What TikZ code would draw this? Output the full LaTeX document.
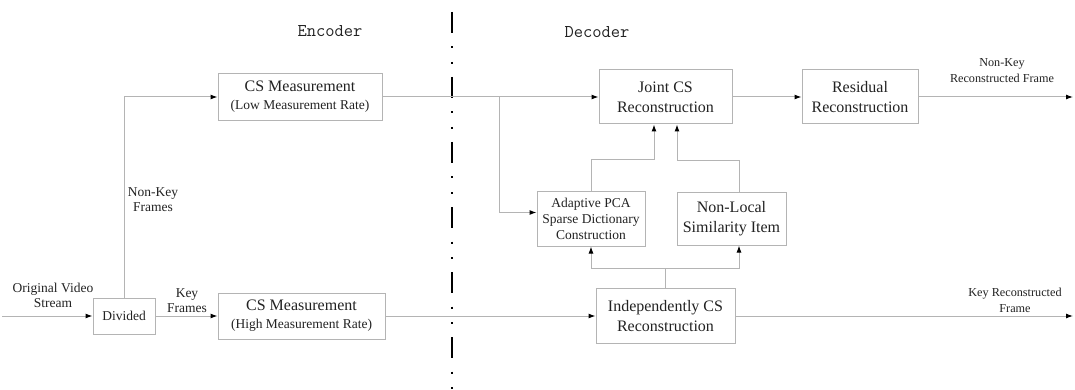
\documentclass[tikz,border=0pt]{standalone}
\usepackage{fontspec}
\setmainfont{Liberation Serif}
\usetikzlibrary{arrows.meta}
\definecolor{linegray}{HTML}{B4B4B4}
\definecolor{txtgray}{HTML}{222222}
\newcommand\bigtxt{\fontsize{16}{20}\selectfont}
\newcommand\smtxt{\fontsize{13.5}{15}\selectfont}
\newcommand\tinytxt{\fontsize{12.2}{16}\selectfont}

\begin{document}
\begin{tikzpicture}[x=1pt,y=-1pt,
  blk/.style={draw=linegray,line width=1pt,inner sep=0pt,align=center,font=\bigtxt,text=txtgray},
  flow/.style={draw=linegray,line width=1pt,-{Latex[length=7pt,width=5pt,color=black]}},
  wire/.style={draw=linegray,line width=1pt},
  lbl/.style={inner sep=0pt,align=center,font=\smtxt,text=txtgray}]
\useasboundingbox (0,0) rectangle (1075,390);
% encoder / decoder split
\draw[line width=2.5pt,dash pattern=on 21pt off 13.5pt on 2pt off 13.5pt on 2pt off 13pt] (452,12) -- (452,392);
\node[font=\ttfamily\fontsize{18}{20}\selectfont,text=txtgray] (enc) at (330,31) {Encoder};
\node[font=\ttfamily\fontsize{18}{20}\selectfont,text=txtgray] (dec) at (597,32) {Decoder};
% blocks
\node[blk,minimum width=62pt,minimum height=36pt,font=\smtxt] (divided) at (124,316) {Divided};
\node[blk,minimum width=164pt,minimum height=47pt] (cslow) at (300,97) {CS Measurement\\[-2pt]{\smtxt(Low Measurement Rate)}};
\node[blk,minimum width=167pt,minimum height=46pt] (cshigh) at (301.5,316) {CS Measurement\\[-2pt]{\smtxt(High Measurement Rate)}};
\node[blk,minimum width=133pt,minimum height=54pt] (joint) at (665.5,97) {Joint CS\\Reconstruction};
\node[blk,minimum width=116pt,minimum height=54pt] (residual) at (860,97) {Residual\\Reconstruction};
\node[blk,minimum width=108pt,minimum height=55pt,font=\fontsize{13.5}{16}\selectfont] (adaptive) at (591,218.5) {Adaptive PCA\\Sparse Dictionary\\Construction};
\node[blk,minimum width=109pt,minimum height=53pt] (nonlocal) at (731.5,218.5) {Non-Local\\Similarity Item};
\node[blk,minimum width=139pt,minimum height=55pt] (indep) at (665.5,316) {Independently CS\\Reconstruction};
% labels
\node[lbl] (origlbl) at (53,295) {Original Video\\Stream};
\node[lbl] (nonkeylbl) at (153,199.5) {Non-Key\\Frames};
\node[lbl] (keylbl) at (187,300.5) {Key\\Frames};
\node[lbl,font=\tinytxt] (nkreclbl) at (1002,70.5) {Non-Key\\Reconstructed Frame};
\node[lbl,font=\tinytxt] (kreclbl) at (1015,300.5) {Key Reconstructed\\Frame};
% free ends
\coordinate (instream) at (2,316);
\coordinate (outtop) at (1073,97);
\coordinate (outbot) at (1073,316);
\coordinate (br) at (499,97);
% connectors
\draw[flow] (instream) -- (divided.west);
\draw[flow] (divided.north) |- (cslow.west);
\draw[flow] (divided.east) -- (cshigh.west);
\draw[flow] (cslow.east) -- (joint.west);
\draw[flow] (cshigh.east) -- (indep.west);
\draw[flow] (br) |- ([yshift=6pt]adaptive.west);
\draw[flow] (adaptive.north) -- ++(0,-31) -| ([xshift=-11.5pt]joint.south);
\draw[flow] ([xshift=7.5pt]nonlocal.north) -- ++(0,-31) -| ([xshift=11.5pt]joint.south);
\draw[wire] (indep.north) -- ++(0,-20) coordinate (sp);
\draw[flow] (sp) -| (adaptive.south);
\draw[flow] (sp) -| ([xshift=7.5pt]nonlocal.south);
\draw[flow] (joint.east) -- (residual.west);
\draw[flow] (residual.east) -- (outtop);
\draw[flow] (indep.east) -- (outbot);
\end{tikzpicture}
\end{document}
